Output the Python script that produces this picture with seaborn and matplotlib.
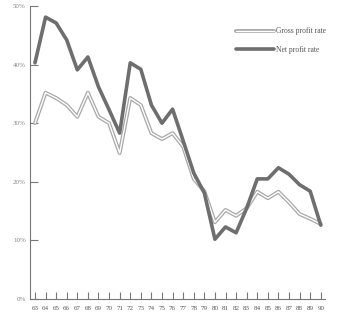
import matplotlib
matplotlib.use("Agg")
import matplotlib.pyplot as plt
import matplotlib.patheffects as pe
import seaborn as sns
import pandas as pd

years = list(range(63, 91))
gross_profit = [30.0, 35.2, 34.3, 33.1, 31.1, 35.2, 31.1, 30.0, 24.9, 34.3,
                33.1, 28.3, 27.3, 28.3, 26.0, 20.5, 18.4, 13.1, 15.2, 14.2,
                15.5, 18.3, 17.2, 18.3, 16.5, 14.5, 13.7, 12.8]
net_profit = [40.3, 48.1, 47.1, 44.2, 39.1, 41.3, 36.2, 32.3, 28.3, 40.3,
              39.2, 33.1, 30.0, 32.4, 27.0, 21.5, 18.1, 10.2, 12.3, 11.3,
              15.5, 20.5, 20.5, 22.4, 21.3, 19.5, 18.4, 12.6]
y_ticks = [0, 10, 20, 30, 40, 50]
y_tick_labels = ["0%", "10%", "20%", "30%", "40%", "50%"]

df = pd.DataFrame({"year": years, "gross": gross_profit, "net": net_profit})

sns.set_style("white")
plt.rcParams["font.family"] = ["Liberation Serif", "DejaVu Serif"]

fig = plt.figure(figsize=(3.39, 3.15), dpi=100)
ax = fig.add_axes([30 / 339, 1 - 299 / 315, 295 / 339, 293 / 315])

sns.lineplot(data=df, x="year", y="gross", ax=ax, color="white", linewidth=1.0,
             label="Gross profit rate",
             path_effects=[pe.Stroke(linewidth=2.8, foreground="#a8a8a8"), pe.Normal()])
sns.lineplot(data=df, x="year", y="net", ax=ax, color="#6e6e6e", linewidth=2.6,
             label="Net profit rate")

ax.set_xlim(62.53, 90.4)
ax.set_ylim(0, 50)
ax.set_xticks(years)
ax.set_xticklabels([str(y) for y in years])
ax.set_yticks(y_ticks)
ax.set_yticklabels(y_tick_labels)
ax.set_xlabel("")
ax.set_ylabel("")

for s in ["top", "right"]:
    ax.spines[s].set_visible(False)
for s in ["left", "bottom"]:
    ax.spines[s].set_color("#777777")
    ax.spines[s].set_linewidth(0.8)

ax.tick_params(axis="x", bottom=True, direction="in", length=5, width=0.8,
               color="#777777", labelsize=5, labelcolor="#555555", pad=5)
ax.tick_params(axis="y", left=True, direction="in", length=6, width=0.8,
               color="#777777", labelsize=5, labelcolor="#888888", pad=3)

leg = ax.legend(loc="upper left", bbox_to_anchor=(0.685, 0.94), frameon=False,
                fontsize=5.5, handlelength=5.0, handletextpad=0.25,
                labelspacing=1.4, borderpad=0)
for t in leg.get_texts():
    t.set_color("#555555")

fig.savefig("out.png", dpi=100)
